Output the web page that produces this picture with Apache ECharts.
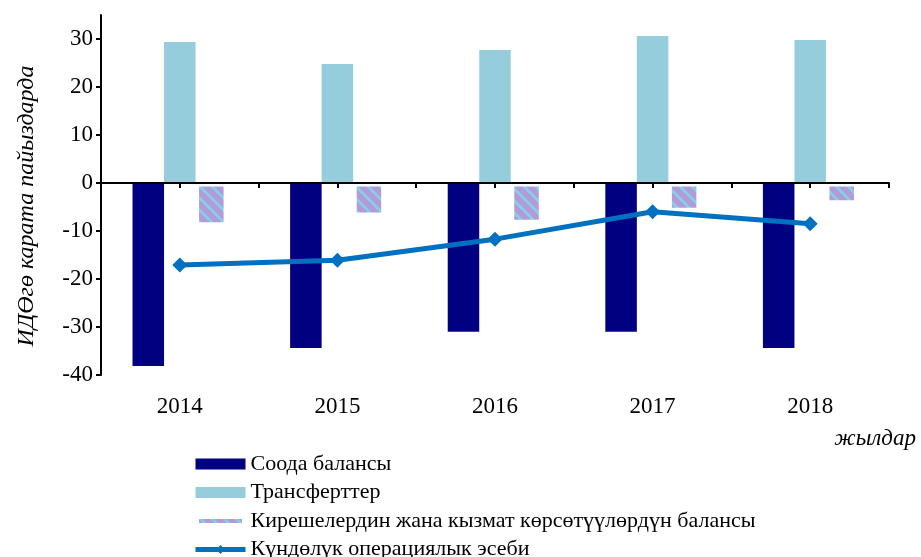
<!DOCTYPE html>
<html>
<head>
<meta charset="utf-8">
<script src="https://cdn.jsdelivr.net/npm/echarts@6/dist/echarts.min.js"></script>
<style>
html,body{margin:0;padding:0;background:#fff;}
#chart{width:921px;height:557px;}
</style>
</head>
<body>
<div id="chart"></div>
<script>
const years = ['2014', '2015', '2016', '2017', '2018'];
const tradeBalance = [-38.1, -34.4, -31.0, -31.0, -34.4];
const transfers = [29.4, 24.8, 27.7, 30.6, 29.8];
const incomeServices = [-8.9, -6.9, -8.4, -5.9, -4.3];
const currentAccount = [-17.1, -16.1, -11.7, -6.0, -8.5];
const yTicks = [-40, -30, -20, -10, 0, 10, 20, 30];
const seriesNames = ['Соода балансы', 'Трансферттер', 'Кирешелердин жана кызмат көрсөтүүлөрдүн балансы', 'Күндөлүк операциялык эсеби'];
const yAxisTitle = 'ИДӨгө карата пайыздарда';
const xAxisTitle = 'жылдар';

const FONT = '"Liberation Serif", "Times New Roman", serif';

// striped pattern
const tile = document.createElement('canvas');
const T = 12;
tile.width = T; tile.height = T;
const ctx = tile.getContext('2d');
for (let x = 0; x < T; x++) {
  for (let y = 0; y < T; y++) {
    ctx.fillStyle = (((x - y) % T + T) % T) < 4 ? '#86CDE8' : '#B39BDA';
    ctx.fillRect(x, y, 1, 1);
  }
}

const chart = echarts.init(document.getElementById('chart'), null, {renderer: 'canvas'});
chart.setOption({
  animation: false,
  backgroundColor: '#fff',
  grid: {left: 101, right: 32, top: 15, bottom: 182, containLabel: false},
  xAxis: [
    {
      type: 'category',
      data: years,
      position: 'bottom',
      boundaryGap: true,
      axisLine: {show: false, onZero: false},
      axisTick: {show: false},
      axisLabel: {margin: 20, color: '#000', fontFamily: FONT, fontSize: 23}
    },
    {
      type: 'value',
      min: 0, max: 10, interval: 1,
      position: 'bottom',
      z: 10,
      axisLine: {show: true, onZero: true, onZeroAxisIndex: 0, lineStyle: {color: '#000', width: 2}},
      axisTick: {show: true, length: 5, lineStyle: {color: '#000', width: 2}},
      axisLabel: {show: false},
      splitLine: {show: false}
    }
  ],
  yAxis: {
    type: 'value',
    min: -40, max: 35, interval: 10,
    axisLine: {show: true, onZero: false, lineStyle: {color: '#000', width: 2}},
    axisTick: {show: true, length: 5, lineStyle: {color: '#000', width: 2}, customValues: yTicks},
    axisLabel: {color: '#000', fontFamily: FONT, fontSize: 23, margin: 8, customValues: yTicks},
    splitLine: {show: false}
  },
  legend: {
    orient: 'vertical',
    left: 187, top: 448, height: 200,
    itemWidth: 50, itemHeight: 11, itemGap: 6.5,
    textStyle: {color: '#000', fontFamily: FONT, fontSize: 22},
    data: [
      {name: seriesNames[0], icon: 'rect'},
      {name: seriesNames[1], icon: 'rect'},
      {name: seriesNames[2], icon: 'rect', itemStyle: {borderColor: '#fff', borderWidth: 7}},
      {name: seriesNames[3], lineStyle: {width: 5}}
    ]
  },
  graphic: [
    {
      type: 'text', x: 27, y: 206, rotation: Math.PI / 2,
      style: {text: yAxisTitle, align: 'center', verticalAlign: 'middle', fill: '#000',
        font: 'italic 24px "Liberation Serif", "Times New Roman", serif'}
    },
    {
      type: 'text', right: 5, top: 427,
      style: {text: xAxisTitle, fill: '#000',
        font: 'italic 23px "Liberation Serif", "Times New Roman", serif'}
    }
  ],
  series: [
    {
      name: seriesNames[0], type: 'bar', data: tradeBalance,
      barWidth: '20%', barGap: '0%',
      itemStyle: {color: '#000080'}
    },
    {
      name: seriesNames[1], type: 'bar', data: transfers,
      barWidth: '20%', barGap: '0%',
      itemStyle: {color: '#96CDDD'}
    },
    {
      name: seriesNames[2], type: 'bar', data: incomeServices,
      barWidth: '20%', barGap: '0%',
      itemStyle: {color: {image: tile, repeat: 'repeat'}, borderColor: '#fff', borderWidth: 3.5}
    },
    {
      name: seriesNames[3], type: 'line', data: currentAccount,
      z: 5,
      symbol: 'diamond', symbolSize: 15,
      lineStyle: {color: '#0070C0', width: 5},
      itemStyle: {color: '#0070C0'}
    }
  ]
});
</script>
</body>
</html>
